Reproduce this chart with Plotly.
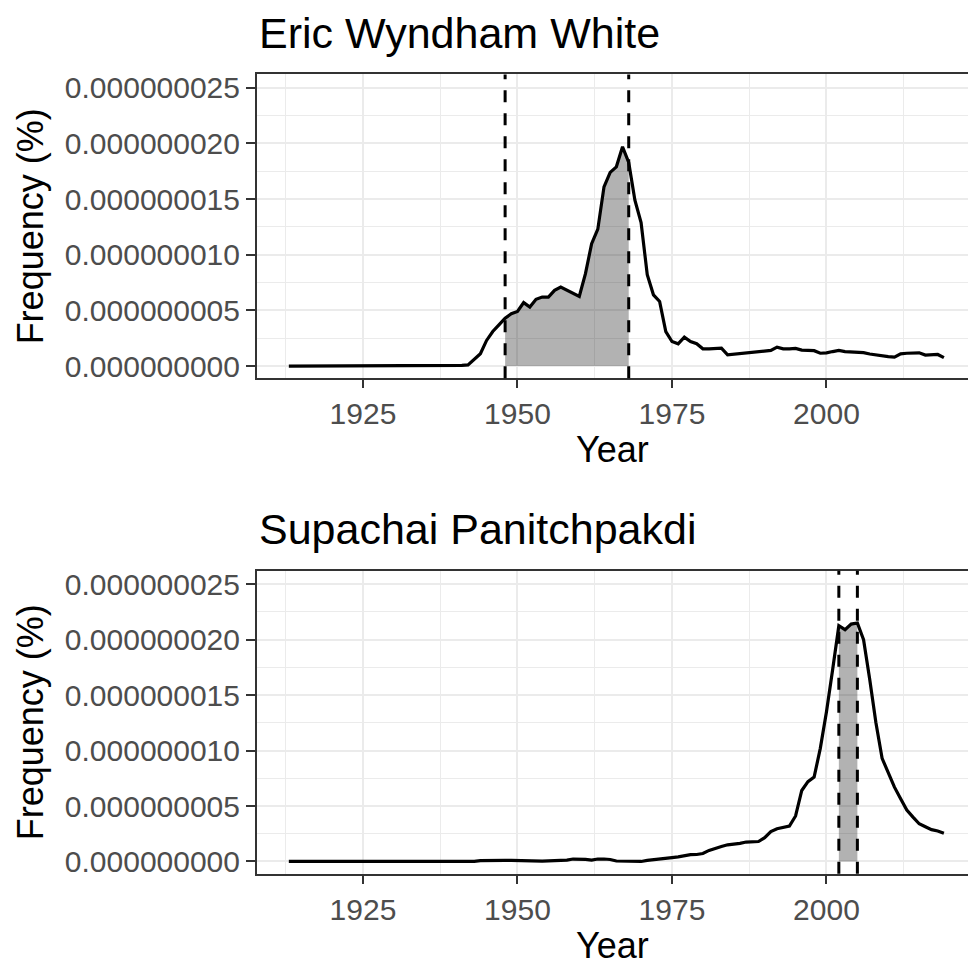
import plotly.graph_objects as go

# ---------------- data ----------------
YEARS = list(range(1913, 2020))
SCALE = 1e-9  # values below are in units of 1e-9 %

EWW = [
    0.0, 0.0, 0.0, 0.0, 0.0, 0.0, 0.0,                      # 1913-1919
    0.0, 0.0, 0.0, 0.0, 0.0, 0.0, 0.0, 0.0, 0.0, 0.0,       # 1920s
    0.0, 0.0, 0.0, 0.0, 0.01, 0.01, 0.02, 0.02, 0.03, 0.04, # 1930s
    0.05, 0.06, 0.1, 0.6, 1.1, 2.3, 3.1, 3.7, 4.3, 4.7,     # 1940s
    4.9, 5.7, 5.3, 6.0, 6.2, 6.2, 6.8, 7.1, 6.8, 6.5,       # 1950s
    6.25, 8.3, 11.0, 12.3, 16.1, 17.4, 17.9, 19.7, 18.3, 14.9,  # 1960s
    12.9, 8.2, 6.4, 5.8, 3.1, 2.2, 2.0, 2.6, 2.2, 2.0,      # 1970s
    1.55, 1.55, 1.55, 1.6, 1.0, 1.05, 1.1, 1.15, 1.25, 1.3, # 1980s
    1.35, 1.4, 1.7, 1.55, 1.55, 1.58, 1.43, 1.42, 1.38, 1.15,  # 1990s
    1.18, 1.3, 1.4, 1.3, 1.28, 1.28, 1.2, 1.08, 0.98, 0.9,  # 2000s
    0.85, 0.8, 1.1, 1.15, 1.19, 1.19, 0.98, 1.02, 1.04, 0.75,  # 2010s
]

SP = [
    0.0, 0.0, 0.0, 0.0, 0.0, 0.0, 0.0,                      # 1913-1919
    0.0, 0.0, 0.0, 0.0, 0.0, 0.0, 0.0, 0.0, 0.0, 0.0,       # 1920s
    0.0, 0.0, 0.0, 0.0, 0.0, 0.0, 0.0, 0.0, 0.0, 0.0,       # 1930s
    0.0, 0.0, 0.0, 0.01, 0.08, 0.1, 0.1, 0.1, 0.1, 0.1,     # 1940s
    0.08, 0.02, 0.02, 0.03, 0.03, 0.05, 0.05, 0.08, 0.12, 0.22,  # 1950s
    0.22, 0.18, 0.12, 0.22, 0.22, 0.18, 0.04, 0.04, 0.03, 0.03,  # 1960s
    0.0, 0.1, 0.18, 0.22, 0.27, 0.35, 0.42, 0.55, 0.62, 0.63,    # 1970s
    0.72, 1.0, 1.2, 1.35, 1.5, 1.55, 1.63, 1.75, 1.8, 1.8,       # 1980s
    2.15, 2.7, 2.95, 3.05, 3.2, 4.1, 6.4, 7.2, 7.6, 10.2,        # 1990s
    13.5, 17.3, 21.25, 20.9, 21.4, 21.5, 20.0, 16.4, 12.5, 9.3,  # 2000s
    8.0, 6.7, 5.65, 4.64, 4.0, 3.4, 3.13, 2.87, 2.75, 2.55,      # 2010s
]

TITLES = ["Eric Wyndham White", "Supachai Panitchpakdi"]
SPANS = [(1948, 1968), (2002, 2005)]
SERIES = [EWW, SP]

X_TICKS = [1925, 1950, 1975, 2000]
Y_TICKS = [0, 5, 10, 15, 20, 25]
Y_TICK_TEXT = ["0.000000000", "0.000000005", "0.000000010",
               "0.000000015", "0.000000020", "0.000000025"]
X_TITLE = "Year"
Y_TITLE = "Frequency (%)"

# ---------------- layout constants ----------------
W, H = 968, 969
FONT = "Liberation Sans, Arial, Helvetica, sans-serif"
TICK_SIZE = 30
AXTITLE_SIZE = 36
TITLE_SIZE = 43

X_RANGE = [1907.85, 2022.9]
Y_RANGE = [-1.1 * SCALE, 26.2 * SCALE]

# panel pixel boxes (top, bottom)
PANELS = [(72, 378), (572, 877)]
PANEL_LEFT = 257


def py(p):
    return 1 - p / H


fig = go.Figure()
layout = dict(
    width=W, height=H,
    margin=dict(l=0, r=0, t=0, b=0),
    paper_bgcolor="white", plot_bgcolor="white",
    showlegend=False,
    font=dict(family=FONT, color="black"),
)

annotations = []
shapes = []
for i, (vals, span, title) in enumerate(zip(SERIES, SPANS, TITLES)):
    sfx = "" if i == 0 else str(i + 1)
    xa, ya = "x" + sfx, "y" + sfx
    yv = [v * SCALE for v in vals]
    sx = [yr for yr in YEARS if span[0] <= yr <= span[1]]
    sy = [v * SCALE for yr, v in zip(YEARS, vals) if span[0] <= yr <= span[1]]
    fig.add_trace(go.Scatter(x=sx, y=sy, xaxis=xa, yaxis=ya, mode="lines",
                             line=dict(width=0), fill="tozeroy",
                             fillcolor="rgba(0,0,0,0.30)", hoverinfo="skip"))
    fig.add_trace(go.Scatter(x=YEARS, y=yv, xaxis=xa, yaxis=ya, mode="lines",
                             line=dict(color="black", width=3.2)))
    top, bot = PANELS[i]
    layout["xaxis" + sfx] = dict(
        domain=[PANEL_LEFT / W, 1], anchor=ya, range=X_RANGE,
        tickmode="array", tickvals=X_TICKS,
        ticks="outside", ticklen=8, tickwidth=2, tickcolor="#333333",
        tickfont=dict(size=TICK_SIZE, color="#4d4d4d", family=FONT),
        showline=True, mirror=True, linecolor="#333333", linewidth=2,
        showgrid=True, gridcolor="#ebebeb", gridwidth=2.2, zeroline=False,
        minor=dict(tickvals=[1912.5, 1937.5, 1962.5, 1987.5, 2012.5],
                   showgrid=True, gridcolor="#ebebeb", gridwidth=1.1),
    )
    layout["yaxis" + sfx] = dict(
        domain=[py(bot), py(top)], anchor=xa, range=Y_RANGE,
        tickmode="array", tickvals=[t * SCALE for t in Y_TICKS], ticktext=Y_TICK_TEXT,
        ticks="outside", ticklen=9, tickwidth=2, tickcolor="#333333",
        tickfont=dict(size=TICK_SIZE, color="#4d4d4d", family=FONT),
        showline=True, mirror=False, linecolor="#333333", linewidth=2,
        showgrid=True, gridcolor="#ebebeb", gridwidth=2.2, zeroline=False,
        minor=dict(tickvals=[t * SCALE for t in [2.5, 7.5, 12.5, 17.5, 22.5]],
                   showgrid=True, gridcolor="#ebebeb", gridwidth=1.1),
    )
    for xv in span:
        shapes.append(dict(type="line", xref=xa, yref=ya + " domain",
                           x0=xv, x1=xv, y0=0, y1=1,
                           line=dict(color="black", width=3, dash="12px,11px")))
    # titles
    annotations.append(dict(text=title, x=PANEL_LEFT / W, y=py(top - 42),
                            xref="paper", yref="paper", xanchor="left", yanchor="middle",
                            showarrow=False, font=dict(size=TITLE_SIZE, color="black", family=FONT)))
    annotations.append(dict(text=X_TITLE, x=612 / W, y=py(bot + 72),
                            xref="paper", yref="paper", xanchor="center", yanchor="middle",
                            showarrow=False, font=dict(size=AXTITLE_SIZE, color="black", family=FONT)))
    annotations.append(dict(text=Y_TITLE, x=30 / W, y=py((top + bot) / 2),
                            xref="paper", yref="paper", xanchor="center", yanchor="middle",
                            textangle=-90, showarrow=False,
                            font=dict(size=AXTITLE_SIZE, color="black", family=FONT)))

layout["annotations"] = annotations
layout["shapes"] = shapes
fig.update_layout(**layout)
fig.write_html("out.html")
